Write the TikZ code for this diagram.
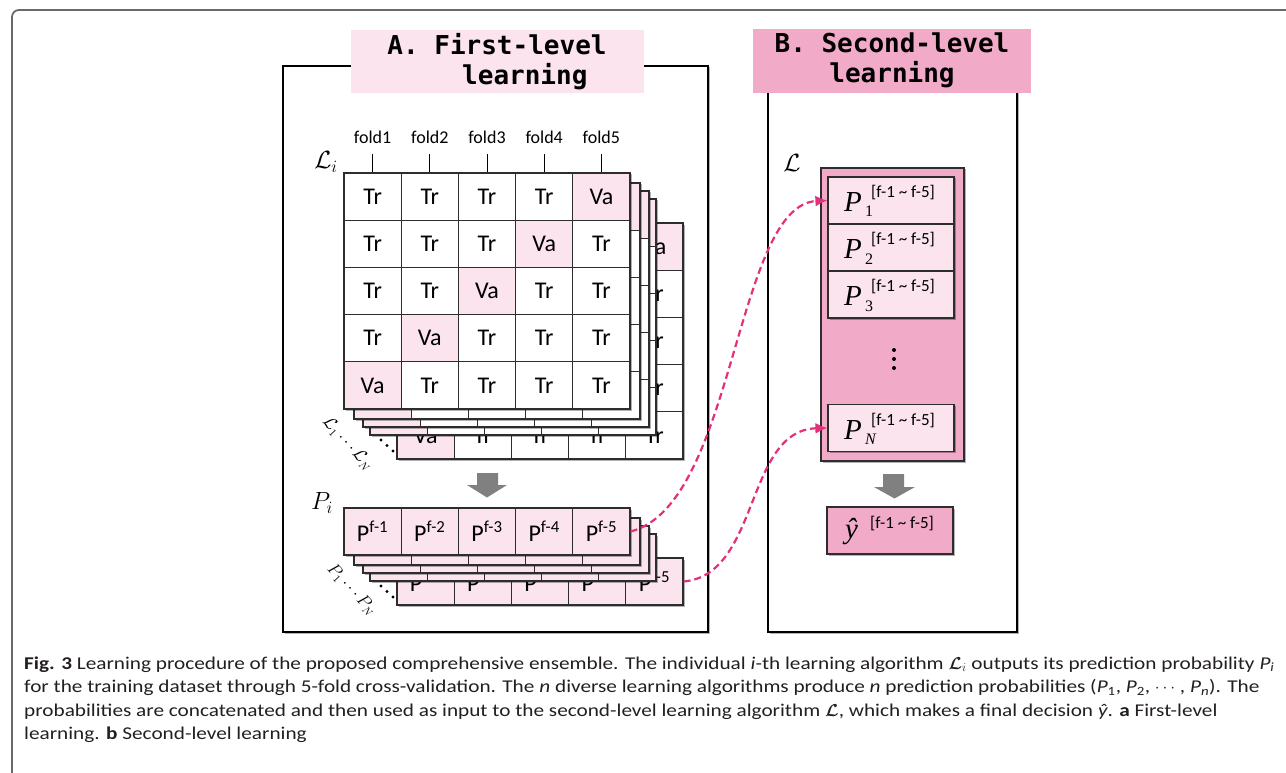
\documentclass[tikz,border=0pt]{standalone}
\usepackage{fontspec}
\usepackage{bm}
\usetikzlibrary{shadows,arrows.meta}
\newfontfamily\calib{Carlito}
\newfontfamily\capfont[FakeStretch=1.18]{Carlito}
\newfontfamily\monob{DejaVu Sans Mono}
\newfontfamily\serifp{Liberation Serif}
\definecolor{lpink}{RGB}{251,228,238}
\definecolor{mpink}{RGB}{241,170,200}
\definecolor{mag}{RGB}{228,48,120}
\definecolor{gridline}{RGB}{45,45,45}
\definecolor{arrgray}{RGB}{128,128,128}
\definecolor{captxt}{RGB}{35,31,32}
\definecolor{framegray}{RGB}{105,105,105}
\tikzset{
  softshadow/.style={drop shadow={shadow xshift=1.5pt,shadow yshift=-1.5pt,opacity=0.3,fill=black}},
  cellbox/.style={draw=gridline,line width=1.2pt,minimum width=57.2pt,minimum height=47.2pt,inner sep=0pt,font=\calib\fontsize{24}{24}\selectfont},
  pcell/.style={cellbox,minimum height=47pt,fill=lpink},
  layerbg/.style={fill=white,softshadow},
  panel/.style={draw=black,line width=1.2pt,fill=white,softshadow},
  titletxt/.style={font=\monob\bfseries\fontsize{26}{26}\selectfont,anchor=base,inner sep=0pt},
  foldtxt/.style={font=\calib\fontsize{18}{18}\selectfont,inner sep=0pt},
  entrybox/.style={draw=gridline,line width=1.2pt,fill=lpink,minimum width=126pt,minimum height=47pt,inner sep=0pt,softshadow},
  suptxt/.style={font=\calib\fontsize{17}{17}\selectfont,anchor=west,inner sep=0pt},
  bigmath/.style={font=\serifp\itshape\fontsize{29}{29}\selectfont,anchor=base west,inner sep=0pt},
  submath/.style={font=\serifp\fontsize{16}{16}\selectfont,anchor=base west,inner sep=0pt},
  dasharrow/.style={draw=mag,line width=2.2pt,dash pattern=on 7pt off 4pt,-{Latex[length=12pt,width=11pt]}},
  blockarrow/.style={fill=arrgray,draw=none},
  capline/.style={font=\capfont\fontsize{18}{18}\selectfont,text=captxt,anchor=base west,inner sep=0pt},
}
\newcommand{\pentry}[3]{%
  \node[entrybox] (#1) at (891,#2) {};
  \node[bigmath] (#1P) at (844,#2+11) {P};
  \node[submath] (#1s) at (865,#2+16.5) {#3};
  \node[suptxt] (#1t) at (871,#2-7.5) {[f-1 \textasciitilde{} f-5]};
}
\begin{document}
\begin{tikzpicture}[x=1pt,y=-1pt]
\useasboundingbox (0,0) rectangle (1286,773);
% figure frame
\draw[framegray,line width=1.8pt,rounded corners=7pt] (12,790) -- (12,10) -- (1300,10);

% panels
\path[panel] (283,66) rectangle (708,632);
\path[panel] (768,80) rectangle (1017,632);

% titles
\node[fill=lpink,minimum width=293pt,minimum height=63pt,inner sep=0pt] (titleA) at (497.5,61.5) {};
\node[titletxt] (titleA1) at (497,55) {A. First-level};
\node[titletxt,anchor=base west] (titleA2) at (462,85) {learning};
\node[fill=mpink,minimum width=278pt,minimum height=64pt,inner sep=0pt] (titleB) at (892,61) {};
\node[titletxt] (titleB1) at (892,53) {B. Second-level};
\node[titletxt] (titleB2) at (892,83) {learning};

% stack dots
\foreach \i/\px/\py in {1/381/440,2/387/445.5,3/393/451}{
  \fill (\px,\py) circle (1.6pt);
}
\foreach \i/\px/\py in {1/381/586,2/387/591.5,3/393/597}{
  \fill (\px,\py) circle (1.6pt);
}

% grid stack
\foreach \dx/\dy/\k in {53/50/4,26/26/3,19/18/2,10/10/1,0/0/0}{
  \path[layerbg] (344+\dx,173+\dy) rectangle (630+\dx,409+\dy);
  \foreach \r in {0,...,4}{
    \foreach \c in {0,...,4}{
      \pgfmathtruncatemacro\s{\r+\c}
      \ifnum\s=4 \def\ctxt{Va}\def\cfill{lpink}\else\def\ctxt{Tr}\def\cfill{white}\fi
      \ifnum\k=1 \def\ctxt{}\fi
      \ifnum\k=2 \def\ctxt{}\fi
      \ifnum\k=3 \def\ctxt{}\fi
      \ifnum\k=4
        \ifnum\r<4 \ifnum\c<4 \def\ctxt{}\fi\fi
      \fi
      \node[cellbox,fill=\cfill] (g\k-\r-\c) at (372.6+\dx+57.2*\c,196.6+\dy+47.2*\r) {\ctxt};
    }
  }
}

% fold labels
\foreach \c in {0,...,4}{
  \pgfmathtruncatemacro\cc{\c+1}
  \node[foldtxt] (fold\c) at (372.6+57.2*\c,137) {fold\cc};
  \coordinate (ft\c) at (372.6+57.2*\c,154);
  \draw[line width=1pt] (ft\c) -- (g0-0-\c.north);
}
\node[font=\fontsize{26}{26}\selectfont,inner sep=0pt] (Li) at (326,162) {$\mathcal{L}_i$};
\node[font=\fontsize{16}{16}\selectfont,rotate=-47,inner sep=0pt] (Lrange) at (348,444) {$\mathcal{L}_1\cdots\mathcal{L}_N$};

% gray arrow left
\path[blockarrow] (477,473) -- (498,473) -- (498,485) -- (507,485) -- (487,497.5) -- (467,485) -- (477,485) -- cycle;

% P stack
\foreach \dx/\dy/\k in {53/50/4,26/26/3,19/18/2,10/10/1,0/0/0}{
  \path[layerbg] (344+\dx,508+\dy) rectangle (630+\dx,555+\dy);
  \foreach \c in {0,...,4}{
    \pgfmathtruncatemacro\cc{\c+1}
    \def\ptxt{P\textsuperscript{f-\cc}}
    \ifnum\k=1 \def\ptxt{}\fi
    \ifnum\k=2 \def\ptxt{}\fi
    \ifnum\k=3 \def\ptxt{}\fi
    \node[pcell] (p\k-\c) at (372.6+\dx+57.2*\c,531.5+\dy) {\ptxt};
  }
}
\node[font=\fontsize{26}{26}\selectfont,inner sep=0pt] (Pi) at (322,503) {$P_i$};
\node[font=\fontsize{16}{16}\selectfont,rotate=-47,inner sep=0pt] (Prange) at (352,590) {$P_1\cdots P_N$};

% right panel
\node[draw=gridline,line width=1.2pt,fill=mpink,minimum width=143pt,minimum height=293pt,inner sep=0pt,softshadow] (Lbox) at (892.5,314.5) {};
\node[font=\fontsize{26}{26}\selectfont,inner sep=0pt] (Lall) at (792,163) {$\mathcal{L}$};
\pentry{q1}{200.5}{1}
\pentry{q2}{247.5}{2}
\pentry{q3}{294.5}{3}
\pentry{qN}{428}{\itshape N}
\foreach \i/\py in {1/350,2/359,3/368}{
  \fill (894,\py) circle (2pt);
}
\path[blockarrow] (883,474) -- (904,474) -- (904,487) -- (915,487) -- (894.5,498.5) -- (874,487) -- (883,487) -- cycle;
\node[draw=gridline,line width=1.2pt,fill=mpink,minimum width=126pt,minimum height=47pt,inner sep=0pt,softshadow] (yhat) at (890,530.5) {};
\node[bigmath] (yhatt) at (845,538) {ŷ};
\node[suptxt] (yhats) at (870,523.5) {[f-1 \textasciitilde{} f-5]};

% dashed connectors
\draw[dasharrow] (p0-4.east) .. controls (735,505) and (735,205) .. (q1.west);
\draw[dasharrow] (p4-4.east) .. controls (760,575) and (745,430) .. (qN.west);

% caption
\node[capline] (cap1) at (24,669) {\textbf{Fig. 3} Learning procedure of the proposed comprehensive ensemble. The individual \textit{i}-th learning algorithm $\bm{\mathcal{L}}_i$ outputs its prediction probability \textit{P\textsubscript{i}}};
\node[capline] (cap2) at (24,692.5) {for the training dataset through 5-fold cross-validation. The \textit{n} diverse learning algorithms produce \textit{n} prediction probabilities (\textit{P}\textsubscript{1}, \textit{P}\textsubscript{2}, $\cdots$ , \textit{P\textsubscript{n}}). The};
\node[capline] (cap3) at (24,716) {probabilities are concatenated and then used as input to the second-level learning algorithm $\bm{\mathcal{L}}$, which makes a final decision \textit{ŷ}. \textbf{a} First-level};
\node[capline] (cap4) at (24,739.5) {learning. \textbf{b} Second-level learning};
\end{tikzpicture}
\end{document}
